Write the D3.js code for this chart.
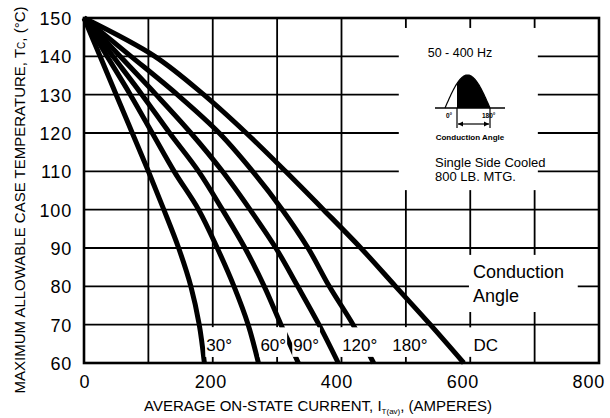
<!DOCTYPE html>
<html>
<head>
<meta charset="utf-8">
<script src="https://cdn.jsdelivr.net/npm/d3@7"></script>
<style>
  body { margin: 0; background: #fff; }
  svg { display: block; font-family: "Liberation Sans", Arial, Helvetica, sans-serif; }
</style>
</head>
<body>
<svg width="610" height="418"></svg>
<script>
// case temperature (°C) at which each current was read
const temps = [150, 140, 130, 120, 110, 100, 90, 80, 70, 60];
// average on-state current (A) for each conduction angle
const amps30  = [0, 25, 50, 75, 100, 124, 147, 166, 179, 187];
const amps60  = [0, 36, 72, 106, 140, 178, 207, 233, 255, 271];
const amps90  = [0, 45, 90, 133, 178, 215, 250, 280, 306, 333];
const amps120 = [0, 56, 112, 166, 215, 258, 298, 332, 365, 395];
const amps180 = [0, 73, 145, 210, 262, 308, 348, 381, 418, 450];
const ampsDC  = [0, 110, 186, 252, 313, 372, 430, 484, 538, 590];
const curveNames = ["30°", "60°", "90°", "120°", "180°", "DC"];
const labelAmps = [190, 274, 325, 401, 479, 605];
const xTicks = [0, 200, 400, 600, 800];
const yTicks = [60, 70, 80, 90, 100, 110, 120, 130, 140, 150];
const xGrid = [100, 200, 300, 400, 500, 600, 700];
const yGrid = [70, 80, 90, 100, 110, 120, 130, 140];

const svg = d3.select("svg");

const x = d3.scaleLinear().domain([0, 800]).range([84, 599]);
const y = d3.scaleLinear().domain([60, 150]).range([363, 18]);

// grid
svg.selectAll(".vgrid").data(xGrid).enter().append("line")
    .attr("x1", d => x(d)).attr("x2", d => x(d))
    .attr("y1", y(150)).attr("y2", y(60))
    .attr("stroke", "#000").attr("stroke-width", 1.8);
svg.selectAll(".hgrid").data(yGrid).enter().append("line")
    .attr("x1", x(0)).attr("x2", x(800))
    .attr("y1", d => y(d)).attr("y2", d => y(d))
    .attr("stroke", "#000").attr("stroke-width", 1.8);

// white areas where the grid is left out (inset, notes, label row)
const gaps = [
    [489, 705, 147.4, 105.1],
    [598, 767, 88.2, 73.3],
    [180, 655, 69.3, 61.6]
];
svg.selectAll(".gap").data(gaps).enter().append("rect")
    .attr("x", d => x(d[0])).attr("width", d => x(d[1]) - x(d[0]))
    .attr("y", d => y(d[2])).attr("height", d => y(d[3]) - y(d[2]))
    .attr("fill", "#fff");

// frame
svg.append("rect")
    .attr("x", x(0)).attr("y", y(150))
    .attr("width", x(800) - x(0)).attr("height", y(60) - y(150))
    .attr("fill", "none").attr("stroke", "#000").attr("stroke-width", 2.6);

// curves
const series = [amps30, amps60, amps90, amps120, amps180, ampsDC];
const line = d3.line()
    .x(d => x(d[0]))
    .y(d => y(d[1]))
    .curve(d3.curveCatmullRom.alpha(0.5));

svg.selectAll(".curve").data(series).enter().append("path")
    .attr("d", s => line(s.map((a, i) => [a, temps[i]])))
    .attr("fill", "none").attr("stroke", "#000")
    .attr("stroke-width", 5).attr("stroke-linejoin", "round");

// curve labels
const labels = svg.selectAll(".lab").data(curveNames).enter().append("g");
labels.append("text")
    .attr("x", (d, i) => x(labelAmps[i]))
    .attr("y", y(63.1))
    .attr("font-size", 17)
    .text(d => d)
    .each(function() {
        const b = this.getBBox();
        d3.select(this.parentNode).insert("rect", "text")
            .attr("x", b.x - 1).attr("y", y(69.3))
            .attr("width", b.width + 2).attr("height", y(61.6) - y(69.3))
            .attr("fill", "#fff");
    });

svg.append("text").attr("x", 473).attr("y", 278).attr("font-size", 18).text("Conduction");
svg.append("text").attr("x", 473).attr("y", 302).attr("font-size", 18).text("Angle");

// axis tick labels
svg.selectAll(".ylab").data(yTicks).enter().append("text")
    .attr("x", 72).attr("y", d => y(d) + 7)
    .attr("text-anchor", "end").attr("font-size", 18).attr("letter-spacing", 0.8)
    .text(d => d);
svg.selectAll(".xlab").data(xTicks).enter().append("text")
    .attr("x", d => x(d) + 1 - d / 100 * 1.4)
    .attr("y", 388)
    .attr("text-anchor", "middle").attr("font-size", 18).attr("letter-spacing", 0.8)
    .text(d => d);

// axis titles
const xt = svg.append("text").attr("x", 318).attr("y", 411)
    .attr("text-anchor", "middle").attr("font-size", 15);
xt.append("tspan").text("AVERAGE ON-STATE CURRENT, I");
xt.append("tspan").attr("font-size", 8).attr("dy", 3).text("T(av)");
xt.append("tspan").attr("dy", -3).text(", (AMPERES)");

const yt = svg.append("text")
    .attr("transform", "translate(25,200) rotate(-90)")
    .attr("text-anchor", "middle").attr("font-size", 15);
yt.append("tspan").text("MAXIMUM ALLOWABLE CASE TEMPERATURE, T");
yt.append("tspan").attr("font-size", 10).text("C");
yt.append("tspan").text(", (°C)");

// inset: waveform sketch
svg.append("text").attr("x", 460).attr("y", 57)
    .attr("text-anchor", "middle").attr("font-size", 12.5).text("50 - 400 Hz");

const wx = d3.scaleLinear().domain([0, 180]).range([445, 490]);
const wy = d3.scaleLinear().domain([0, 1]).range([108, 75]);
const phase = d3.range(0, 181, 3);
const wave = d3.line().x(d => wx(d)).y(d => wy(Math.sin(d * Math.PI / 180)));
const lit = phase.filter(d => d >= 48);
svg.append("path")
    .attr("d", wave(lit) + "L" + wx(180) + "," + wy(0) + "L" + wx(48) + "," + wy(0) + "Z")
    .attr("fill", "#000");
svg.append("path").attr("d", wave(phase))
    .attr("fill", "none").attr("stroke", "#000").attr("stroke-width", 1.2);
svg.append("line").attr("x1", 435).attr("x2", 505).attr("y1", wy(0)).attr("y2", wy(0))
    .attr("stroke", "#000").attr("stroke-width", 1.5);
[48, 180].forEach(p => {
    svg.append("line").attr("x1", wx(p)).attr("x2", wx(p)).attr("y1", wy(0)).attr("y2", 128)
        .attr("stroke", "#000").attr("stroke-width", 1.2);
});
svg.append("line").attr("x1", wx(48) + 1).attr("x2", wx(180) - 1).attr("y1", 124).attr("y2", 124)
    .attr("stroke", "#000").attr("stroke-width", 1.2);
svg.append("path").attr("d", `M${wx(48) + 1},124l5,-2.5v5z M${wx(180) - 1},124l-5,-2.5v5z`).attr("fill", "#000");
svg.append("text").attr("x", 446).attr("y", 118).attr("font-size", 6.5).attr("font-weight", "bold").text("0°");
svg.append("text").attr("x", 482).attr("y", 118).attr("font-size", 6.5).attr("font-weight", "bold").text("180°");
svg.append("text").attr("x", 470).attr("y", 140).attr("text-anchor", "middle")
    .attr("font-size", 8).attr("font-weight", "bold").text("Conduction Angle");

svg.append("text").attr("x", 435).attr("y", 167).attr("font-size", 13).text("Single Side Cooled");
svg.append("text").attr("x", 435).attr("y", 181).attr("font-size", 13).text("800 LB. MTG.");
</script>
</body>
</html>
